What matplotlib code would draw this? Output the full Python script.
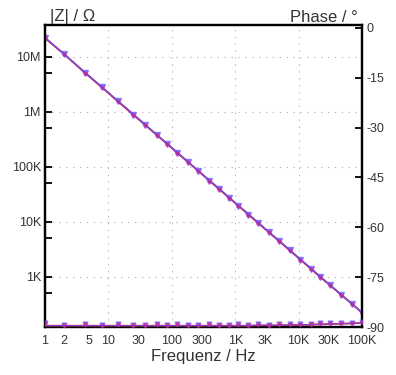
import matplotlib
matplotlib.use("Agg")
import matplotlib.pyplot as plt
from matplotlib.ticker import FixedLocator, NullLocator, NullFormatter

plt.rcParams['font.family'] = ['Liberation Sans', 'DejaVu Sans']

freq = [1, 2, 4.3, 7.8, 14, 24.5, 38, 57.5, 85, 123, 182, 263, 389, 550, 813,
        1120, 1620, 2290, 3390, 4900, 7240, 10700, 15500, 21900, 31600, 46800,
        70800, 100000]
z_meas = [2.2e7, 1.12e7, 5.1e6, 2.83e6, 1.57e6, 8.95e5, 5.8e5, 3.83e5, 2.6e5,
          1.79e5, 1.21e5, 8.4e4, 5.66e4, 4.0e4, 2.71e4, 1.97e4, 1.36e4, 9.6e3,
          6.5e3, 4.5e3, 3.05e3, 2.06e3, 1.42e3, 1.0e3, 700, 475, 318, 225]
z_fit = [2.25e7, 1.13e7, 5.2e6, 2.88e6, 1.6e6, 9.2e5, 5.9e5, 3.9e5, 2.64e5,
         1.83e5, 1.23e5, 8.5e4, 5.78e4, 4.09e4, 2.77e4, 2.0e4, 1.39e4, 9.8e3,
         6.6e3, 4.6e3, 3.1e3, 2.1e3, 1.45e3, 1.02e3, 710, 480, 318, 225]
phase_meas = [-88.9, -89.3, -89.2, -89.4, -89.1, -89.3, -89.4, -89.2, -89.3,
              -89.1, -89.4, -89.3, -89.2, -89.4, -89.3, -89.2, -89.3, -89.1,
              -89.3, -89.2, -89.1, -89.0, -89.1, -88.9, -88.8, -88.9, -88.7,
              -88.6]
phase_fit = [-89.6, -89.6, -89.6, -89.6, -89.6, -89.6, -89.6, -89.6, -89.6,
             -89.6, -89.6, -89.6, -89.6, -89.6, -89.6, -89.6, -89.6, -89.5,
             -89.5, -89.5, -89.4, -89.4, -89.3, -89.2, -89.1, -89.0, -88.9,
             -88.8]

xticks = [1, 2, 5, 10, 30, 100, 300, 1000, 3000, 10000, 30000, 100000]
xticklabels = ['1', '2', '5', '10', '30', '100', '300', '1K', '3K', '10K', '30K', '100K']
yticks = [1e3, 1e4, 1e5, 1e6, 1e7]
yticklabels = ['1K', '10K', '100K', '1M', '10M']
yminor = [5e2, 5e3, 5e4, 5e5, 5e6]
pticks = [0, -15, -30, -45, -60, -75, -90]

tc = '#333333'
fig = plt.figure(figsize=(3.96, 3.75), dpi=100)
ax = fig.add_axes([45/396, 1-327/375, (362-45)/396, (327-25)/375])
ax.set_xscale('log')
ax.set_yscale('log')
ax.set_xlim(1, 1e5)
ax.set_ylim(123, 3.8e7)

# grid at decades
for gx in [10, 100, 1000, 10000]:
    ax.axvline(gx, color='#b8b8b8', lw=0.8, ls=(0, (1.2, 5)), zorder=0)
for gy in yticks:
    ax.axhline(gy, color='#b8b8b8', lw=0.8, ls=(0, (1.2, 5)), zorder=0)

ax.plot(freq, z_meas, color='red', lw=1.3, zorder=3)
ax.plot(freq, z_fit, color='#5a5aff', lw=1.1, zorder=3, alpha=0.9)
ax.plot(freq, z_meas, ls='none', marker='v', ms=3.8, color='#6050ff', alpha=0.65, zorder=4)
ax.plot(freq, z_meas, ls='none', marker='o', ms=2.3, color='#d02080', alpha=0.55, zorder=4)

ax.xaxis.set_major_locator(FixedLocator(xticks))
ax.xaxis.set_minor_locator(NullLocator())
ax.set_xticklabels(xticklabels)
ax.yaxis.set_major_locator(FixedLocator(yticks))
ax.yaxis.set_minor_locator(FixedLocator(yminor))
ax.yaxis.set_minor_formatter(NullFormatter())
ax.set_yticklabels(yticklabels)
ax.tick_params(axis='x', length=0, pad=6, labelsize=9, labelcolor=tc)
ax.tick_params(axis='y', which='both', direction='in', length=5, width=1.3,
               pad=3, labelsize=9, labelcolor=tc)
for s in ax.spines.values():
    s.set_linewidth(1.6)

ax2 = ax.twinx()
ax2.set_ylim(-90, 0.9)
ax2.plot(freq, phase_fit, color='red', lw=1.2, zorder=3)
ax2.plot(freq, phase_fit, color='#5a5aff', lw=1.0, zorder=3, alpha=0.8)
ax2.plot(freq, phase_meas, ls='none', marker='v', ms=3.5, color='#6050ff', alpha=0.65, zorder=4)
ax2.plot(freq, phase_meas, ls='none', marker='o', ms=2.3, color='#d02080', alpha=0.55, zorder=4)
ax2.yaxis.set_major_locator(FixedLocator(pticks))
ax2.set_yticklabels([str(p) for p in pticks])
ax2.tick_params(axis='y', direction='in', length=5, width=1.3, pad=3,
                labelsize=9, labelcolor=tc)
for s in ax2.spines.values():
    s.set_linewidth(1.6)

fig.text(50/396, 1-17/375, '|Z| / Ω', fontsize=12, color=tc, ha='left', va='center')
fig.text(358/396, 1-17/375, 'Phase / °', fontsize=12, color=tc, ha='right', va='center')
ax.set_xlabel('Frequenz / Hz', fontsize=12, color=tc, labelpad=1)

fig.savefig('out.png', dpi=100)
